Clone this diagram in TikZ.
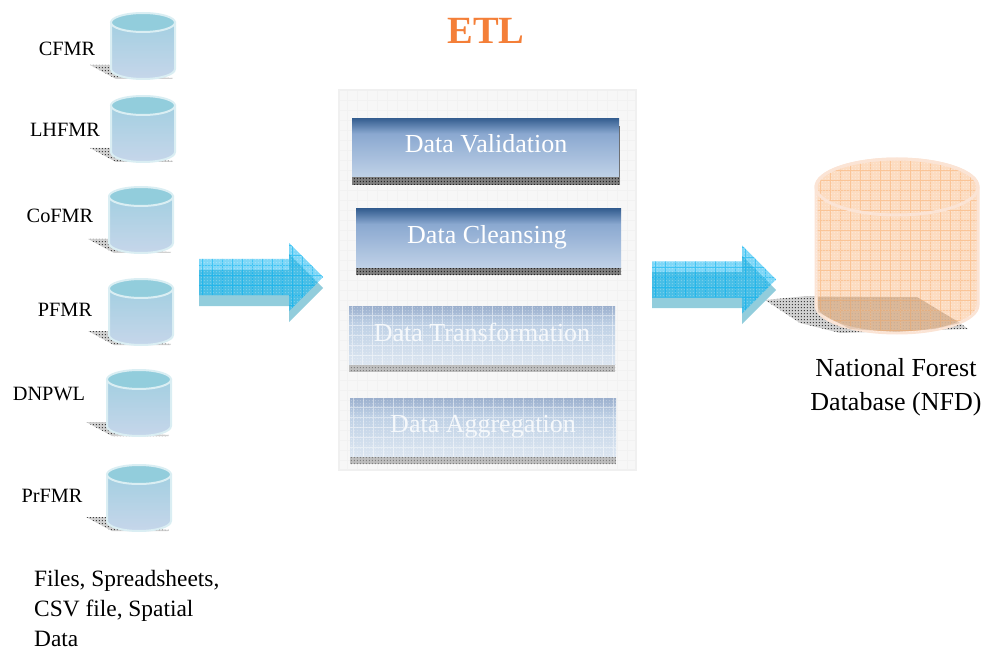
\documentclass[tikz,border=0pt]{standalone}
\usepackage{fontspec}
\setmainfont{Liberation Serif}
\usetikzlibrary{patterns,shapes.arrows}

\definecolor{srcedge}{HTML}{DAEEF3}
\definecolor{srctop}{HTML}{92CDDC}
\definecolor{srcupper}{HTML}{A3CFE1}
\definecolor{srclower}{HTML}{C6D6EA}
\definecolor{nfdedge}{HTML}{FBE4D5}
\definecolor{nfdfill}{HTML}{FBD0AC}
\definecolor{nfdgrid}{HTML}{FAC496}
\definecolor{nfdshade}{HTML}{8B5A2B}
\definecolor{arrowblue}{HTML}{00B0F0}
\definecolor{etlorange}{HTML}{F47F38}
\definecolor{stagetop}{HTML}{365F91}
\definecolor{stagemid}{HTML}{8AA8D0}
\definecolor{stagelow}{HTML}{BFD1E7}
\definecolor{paletop}{HTML}{9BAFCD}
\definecolor{palemid}{HTML}{BED0E5}
\definecolor{palelow}{HTML}{DCE6F1}

\pgfdeclareverticalshading{stagedark}{100bp}{
    color(0bp)=(stagelow);
    color(25bp)=(stagelow);
    color(62bp)=(stagemid);
    color(75bp)=(stagetop);
    color(100bp)=(stagetop)}
\pgfdeclareverticalshading{stagepale}{100bp}{
    color(0bp)=(palelow);
    color(25bp)=(palelow);
    color(60bp)=(palemid);
    color(75bp)=(paletop);
    color(100bp)=(paletop)}

\pgfdeclarepatternformonly{ditherdots}{\pgfqpoint{-1pt}{-1pt}}{\pgfqpoint{2pt}{2pt}}{\pgfqpoint{3pt}{3pt}}{
    \pgfpathrectangle{\pgfqpoint{0pt}{0pt}}{\pgfqpoint{1.4pt}{1.4pt}}
    \pgfusepath{fill}
}

\begin{document}
\begin{tikzpicture}[
    x=1pt,y=-1pt,
    srcbody/.style={
        draw=srcedge,
        line width=2pt,
        top color=srcupper,
        bottom color=srclower
    },
    srclid/.style={
        draw=srcedge,
        line width=2pt,
        fill=srctop
    },
    srcdrum/.pic={
        \path[srcbody] (1,10.5) -- (1,57) arc [start angle=180,end angle=0,x radius=32,y radius=10] -- (65,10.5) -- cycle;
        \path[srclid] (33,10.5) ellipse [x radius=32,y radius=9.5];
    },
    srcname/.style={
        font=\fontsize{20.3}{24}\selectfont,
        inner sep=0pt
    },
    dither/.style={
        pattern=ditherdots,
        pattern color=#1
    },
    hatchshadow/.style={
        fill=black!18,
        postaction={dither=black!75}
    },
    gridded/.style={
        path picture={
            \draw[#1,line width=0.6pt] ([shift={(-10pt,-10pt)}]path picture bounding box.south west) grid[step=10pt] ([shift={(10pt,10pt)}]path picture bounding box.north east);
        }
    },
    stagebox/.style={
        rectangle,
        minimum width=266pt,
        minimum height=58pt,
        inner sep=0pt,
        shading=stagedark
    },
    stagefaded/.style={
        stagebox,
        shading=stagepale,
        gridded={white,opacity=0.45},
        postaction={dither=white,fill opacity=0.25}
    },
    stagetext/.style={
        text=white,
        font=\fontsize{26}{30}\selectfont,
        inner sep=0pt
    },
    stagetextfaded/.style={
        stagetext,
        text=white!70!palelow
    },
    stageband/.style={
        fill=black!50,
        postaction={dither=black!85}
    },
    stagebandfaded/.style={
        fill=black!25,
        postaction={dither=black!50}
    },
    flowarrow/.style={
        single arrow,
        single arrow head extend=16pt,
        single arrow tip angle=90,
        text height=36pt,
        text depth=0pt,
        minimum height=124pt,
        inner sep=0pt
    },
    flowback/.style={
        flowarrow,
        fill=srctop
    },
    flowfront/.style={
        flowarrow,
        fill=arrowblue,
        fill opacity=0.5,
        gridded={arrowblue,opacity=0.5},
        postaction={dither=white,fill opacity=0.25}
    }
]
\useasboundingbox (0,0) rectangle (989,650);

\node[font=\fontsize{38.5}{44}\selectfont\bfseries,text=etlorange,inner sep=0pt] (etl) at (486,31) {ETL};

\foreach \x/\y/\lx/\ly/\name in {
    110/12/67/49/CFMR,
    110/95/65/130/LHFMR,
    108/186/60/216/CoFMR,
    108/278/65/310/PFMR,
    106/369/49/394/DNPWL,
    106/464/52/496/PrFMR}{
    \fill[hatchshadow] (\x-20,\y+53) -- (\x+2,\y+53) -- (\x+30,\y+64) -- (\x+63,\y+66) -- (\x+62,\y+67) -- (\x+6,\y+67) -- cycle;
    \pic (db\name) at (\x,\y) {srcdrum};
    \node[srcname] (label\name) at (\lx,\ly) {\name};
}

\node[font=\fontsize{23.4}{30}\selectfont,align=left,anchor=north west,inner sep=0pt,text depth=0pt] (srctext) at (34,570) {Files, Spreadsheets,\\CSV file, Spatial\\Data};

\node[flowback,anchor=west] (inback) at (199,288) {};
\node[flowfront,anchor=west] (infront) at (199,277) {};

\node[rectangle,minimum width=297pt,minimum height=379pt,draw=black!6,line width=2pt,fill=black!3,gridded=black!5] (etlpanel) at (487,280) {};

\fill[stageband] (352,177) rectangle (620,185);
\fill[black!60] (619,126) rectangle (620,177);
\node[stagebox,minimum width=267pt] (validation) at (485.5,147.5) {};
\node[stagetext] (validationtext) at (486,143.5) {Data Validation};

\fill[stageband] (356,267) rectangle (621,275);
\node[stagebox,minimum width=265pt] (cleansing) at (488.5,238) {};
\node[stagetext] (cleansingtext) at (487,237) {Data Cleansing};

\fill[stagebandfaded] (349,364) rectangle (615,372);
\node[stagefaded] (transformation) at (482,335) {};
\node[stagetextfaded] (transformationtext) at (482,332) {Data Transformation};

\fill[stagebandfaded] (350,456) rectangle (616,464);
\node[stagefaded] (aggregation) at (483,427) {};
\node[stagetextfaded] (aggregationtext) at (483,427) {Data Aggregation};

\fill[hatchshadow] (765,300) -- (807,296) -- (917,297) -- (960,323) -- (968,329) -- (840,333) -- (800,323) -- cycle;
\path[draw=nfdedge,line width=3pt,fill=nfdfill,fill opacity=0.75,gridded=nfdgrid,postaction={dither=white,fill opacity=0.3}] (816,187) -- (816,305) arc [start angle=180,end angle=0,x radius=81,y radius=28] -- (978,187) arc [start angle=0,end angle=-180,x radius=81,y radius=28] -- cycle;
\draw[draw=nfdedge,line width=3pt] (897,187) ellipse [x radius=81,y radius=28];
\fill[nfdshade,opacity=0.2] (818,297) -- (917,297) -- (960,323) -- (935,329) -- (897,332) -- (850,329) -- (818,312) -- cycle;

\node[flowback,anchor=west] (outback) at (652,290) {};
\node[flowfront,anchor=west] (outfront) at (652,279.5) {};

\node[font=\fontsize{26}{34}\selectfont,align=center,inner sep=0pt] (nfdtext) at (896,387) {National Forest\\Database (NFD)};

\end{tikzpicture}
\end{document}
